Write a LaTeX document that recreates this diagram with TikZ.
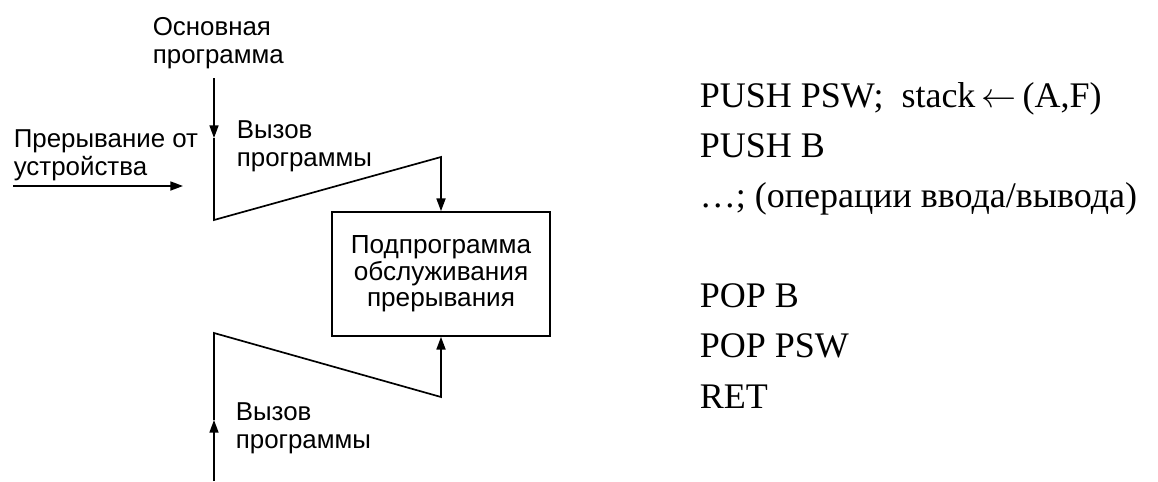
\documentclass[tikz,border=0pt]{standalone}
\usepackage{fontspec}
\setmainfont{Liberation Serif}
\setsansfont{Liberation Sans}
\usetikzlibrary{arrows.meta, positioning}

\begin{document}
\begin{tikzpicture}[x=0.025cm, y=-0.025cm, line width=1.2pt]

    % Define styles for texts, the routine box and the flow lines
    \tikzstyle{sanslabel} = [inner sep=0, align=left, font=\sffamily\fontsize{18.4}{19.5}\selectfont]
    \tikzstyle{routine} = [draw, rectangle, minimum width=5.45cm, minimum height=3.1cm, align=center, font=\sffamily\fontsize{18.6}{18.8}\selectfont]
    \tikzstyle{listing} = [inner sep=0, align=left, font=\fontsize{25.6}{35.6}\selectfont]
    \tikzstyle{flow} = [-{Triangle[length=9pt, width=6.4pt]}]

    \useasboundingbox (0,0) rectangle (1158,481);

    \node (isr) [routine] at (441,274) {Подпрограмма\\обслуживания\\прерывания};
    \node (mainprog) [sanslabel, anchor=base west] at (152,63) {Основная\\программа};
    \node (devtext) [sanslabel, anchor=base west] at (13,175) {Прерывание от\\устройства};
    \node (calltextA) [sanslabel, anchor=base west] at (236,166) {Вызов\\программы};
    \node (calltextB) [sanslabel, anchor=base west] at (235,448) {Вызов\\программы};
    \node (isrcode) [listing, anchor=base west] at (699,408)
        {PUSH PSW;~~stack\,$\leftarrow$\,(A,F)\\PUSH B\\…; (операции ввода/вывода)\\[1.25cm]POP B\\POP PSW\\RET};

    % call path into the routine
    \coordinate (mainin) at (214,78);
    \coordinate (callA) at (214,138);
    \coordinate (retA) at (214,220);
    \coordinate (turnA) at (441,157);
    \coordinate (devstart) at (13,186);
    \coordinate (devend) at (183,186);

    % return path from the routine
    \coordinate (callB) at (214,481);
    \coordinate (arrowB) at (214,420);
    \coordinate (retB) at (214,333);
    \coordinate (turnB) at (441,397);

    \draw[flow] (mainin) -- (callA);
    \draw[flow] (callA) -- (retA) -- (turnA) -- (isr.north);
    \draw[flow] (devstart) -- (devend);

    \draw[flow] (callB) -- (arrowB);
    \draw[flow] (arrowB) -- (retB) -- (turnB) -- (isr.south);

\end{tikzpicture}
\end{document}
